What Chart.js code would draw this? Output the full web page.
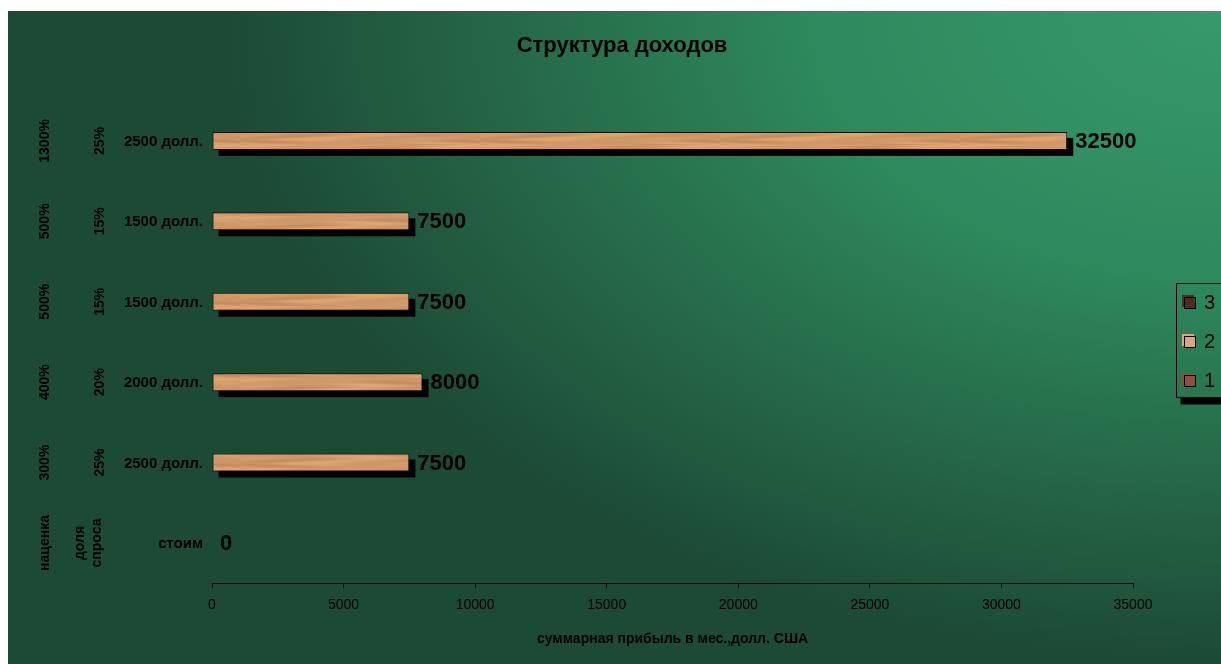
<!DOCTYPE html>
<html>
<head>
<meta charset="utf-8">
<script src="https://cdn.jsdelivr.net/npm/chart.js@4/dist/chart.umd.min.js"></script>
<style>
html,body{margin:0;padding:0;background:#fff;}
#wrap{position:relative;width:1221px;height:664px;}
</style>
</head>
<body>
<div id="wrap"><canvas id="c" width="1221" height="664"></canvas></div>
<script>
// ---- data (top row first) ----
const chartTitle = 'Структура доходов';
const xAxisTitle = 'суммарная прибыль в мес.,долл. США';
const priceLabels = ['2500 долл.', '1500 долл.', '1500 долл.', '2000 долл.', '2500 долл.', 'стоим'];
const demandShareLabels = [['25%'], ['15%'], ['15%'], ['20%'], ['25%'], ['доля', 'спроса']];
const markupLabels = ['1300%', '500%', '500%', '400%', '300%', 'наценка'];
const seriesNames = ['1', '2', '3'];
const series1 = [null, null, null, null, null, null];
const series2 = [32500, 7500, 7500, 8000, 7500, 0];
const series3 = [null, null, null, null, null, null];
const xTicksMax = 35000;
const xTicksStep = 5000;

const FONT = '"Liberation Sans", Arial, sans-serif';

// deterministic wood-like texture
function woodPattern(ctx) {
  const w = 240, h = 18;
  const cv = document.createElement('canvas');
  cv.width = w; cv.height = h;
  const c = cv.getContext('2d');
  const img = c.createImageData(w, h);
  for (let y = 0; y < h; y++) {
    for (let x = 0; x < w; x++) {
      const t = Math.sin(x * 0.045 + Math.sin(y * 0.6) * 1.5) * Math.cos(x * 0.013 + y * 0.2);
      const s = Math.sin(y * 1.1 + x * 0.004) * 0.5;
      const k = t * 12 + s * 6;
      const i = (y * w + x) * 4;
      img.data[i] = 210 + k;
      img.data[i + 1] = 152 + k * 0.9;
      img.data[i + 2] = 104 + k * 0.7;
      img.data[i + 3] = 255;
    }
  }
  c.putImageData(img, 0, 0);
  return ctx.createPattern(cv, 'repeat');
}

const canvas = document.getElementById('c');
const ctx0 = canvas.getContext('2d');
const wood = woodPattern(ctx0);
const legendColors = ['#8a5230', '#e2a676', '#4a2f20'];

const bgPlugin = {
  id: 'bg',
  beforeDraw(chart) {
    const ctx = chart.ctx;
    ctx.save();
    ctx.fillStyle = '#fff';
    ctx.fillRect(0, 0, chart.width, chart.height);
    ctx.beginPath();
    ctx.rect(8, 11, chart.width - 8, chart.height - 11);
    ctx.clip();
    ctx.translate(1221, 11);
    ctx.scale(1000, 650);
    const g = ctx.createRadialGradient(0, 0, 0, 0, 0, 1);
    g.addColorStop(0, '#37996c');
    g.addColorStop(0.4, '#2e8a5e');
    g.addColorStop(0.8, '#235f42');
    g.addColorStop(1, '#1c4a35');
    ctx.fillStyle = g;
    ctx.fillRect(-2, -1, 3, 3);
    ctx.restore();
  }
};

// black drop shadow under each bar, taken from the bar elements
const shadowPlugin = {
  id: 'barShadow',
  beforeDatasetsDraw(chart) {
    const ctx = chart.ctx;
    ctx.save();
    ctx.fillStyle = '#000';
    chart.data.datasets.forEach((ds, di) => {
      const meta = chart.getDatasetMeta(di);
      meta.data.forEach((el, i) => {
        if (ds.data[i] === null || ds.data[i] === 0) return;
        const p = el.getProps(['x', 'y', 'base', 'height'], true);
        const left = Math.min(p.x, p.base), right = Math.max(p.x, p.base);
        ctx.fillRect(left + 6, p.y - p.height / 2 + 6, right - left, p.height);
      });
    });
    ctx.restore();
  }
};

const labelsPlugin = {
  id: 'texts',
  afterDraw(chart) {
    const ctx = chart.ctx;
    const y = chart.scales.y;
    ctx.save();
    ctx.fillStyle = '#000';
    // title
    ctx.font = 'bold 22px ' + FONT;
    ctx.textAlign = 'center';
    ctx.textBaseline = 'middle';
    ctx.fillText(chartTitle, 622, 46);

    // category labels (three levels)
    priceLabels.forEach((lab, i) => {
      const py = y.getPixelForValue(i);
      ctx.font = 'bold 15px ' + FONT;
      ctx.textAlign = 'right';
      ctx.textBaseline = 'middle';
      ctx.fillText(lab, 203, py + 1);

      const ds = demandShareLabels[i];
      ctx.save();
      ctx.translate(ds.length > 1 ? 89 : 100, py);
      ctx.rotate(-Math.PI / 2);
      ctx.font = 'bold 14px ' + FONT;
      ctx.textAlign = 'center';
      ctx.textBaseline = 'middle';
      ds.forEach((t, j) => ctx.fillText(t, 0, (j - (ds.length - 1) / 2) * 17));
      ctx.restore();

      ctx.save();
      ctx.translate(45, py);
      ctx.rotate(-Math.PI / 2);
      ctx.font = 'bold 14px ' + FONT;
      ctx.textAlign = 'center';
      ctx.textBaseline = 'middle';
      ctx.fillText(markupLabels[i], 0, 0);
      ctx.restore();
    });

    // data labels for series 2
    const meta = chart.getDatasetMeta(1);
    ctx.font = 'bold 22px ' + FONT;
    ctx.textAlign = 'left';
    ctx.textBaseline = 'middle';
    meta.data.forEach((el, i) => {
      const v = series2[i];
      if (v === null) return;
      ctx.fillText(String(v), el.x + 8, el.y + 1);
    });

    // legend (reversed order)
    const lx = 1176.5, ly = 283.5, lw = 60, lh = 114;
    ctx.fillStyle = '#000';
    ctx.fillRect(lx + 4, ly + lh, lw, 7);
    ctx.strokeStyle = '#000';
    ctx.lineWidth = 1;
    ctx.strokeRect(lx, ly, lw, lh);
    const rows = [302, 341, 380];
    [2, 1, 0].forEach((di, k) => {
      const cy = rows[k];
      ctx.fillStyle = legendColors[di];
      ctx.fillRect(1182, cy - 7, 12, 12);
      ctx.fillRect(1184.5, cy - 4.5, 11, 11);
      ctx.strokeStyle = '#000';
      ctx.strokeRect(1184.5, cy - 4.5, 11, 11);
      ctx.fillStyle = '#000';
      ctx.font = '20px ' + FONT;
      ctx.textAlign = 'left';
      ctx.textBaseline = 'middle';
      ctx.fillText(seriesNames[di], 1204, cy + 1);
    });
    ctx.restore();
  }
};

new Chart(canvas, {
  type: 'bar',
  data: {
    labels: priceLabels,
    datasets: [
      { label: seriesNames[0], data: series1, backgroundColor: legendColors[0], borderColor: '#1a0d05', borderWidth: 1, borderSkipped: false },
      { label: seriesNames[1], data: series2, backgroundColor: wood, borderColor: '#1a0d05', borderWidth: 1, borderSkipped: false },
      { label: seriesNames[2], data: series3, backgroundColor: legendColors[2], borderColor: '#1a0d05', borderWidth: 1, borderSkipped: false }
    ]
  },
  options: {
    indexAxis: 'y',
    responsive: false,
    animation: false,
    devicePixelRatio: 1,
    categoryPercentage: 0.67,
    barPercentage: 1,
    layout: { padding: { left: 212, right: 88, top: 100.7, bottom: 12.2 } },
    plugins: { legend: { display: false }, title: { display: false }, tooltip: { enabled: false } },
    scales: {
      y: { display: false },
      x: {
        min: 0, max: xTicksMax,
        ticks: { stepSize: xTicksStep, color: '#000', font: { family: FONT, size: 14 }, padding: 8.6, maxRotation: 0,
                 callback: (v) => String(v) },
        grid: { drawOnChartArea: false, drawTicks: true, tickLength: 5, color: '#000' },
        border: { display: true, color: '#000', width: 1 },
        title: { display: true, text: xAxisTitle, color: '#000', font: { family: FONT, size: 14, weight: 'bold' }, padding: { top: 8.8, bottom: 4 } }
      }
    }
  },
  plugins: [bgPlugin, shadowPlugin, labelsPlugin]
});
</script>
</body>
</html>
